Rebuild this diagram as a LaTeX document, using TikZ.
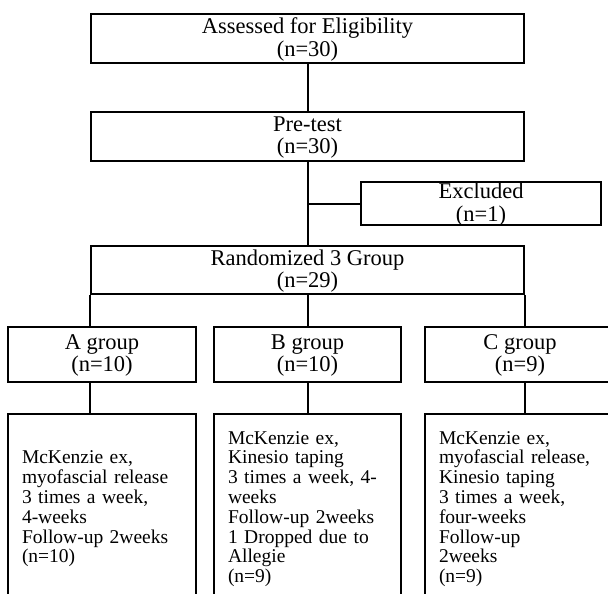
\documentclass[tikz,border=0pt]{standalone}
\usepackage{fontspec}
\setmainfont{Liberation Serif}
\newcommand\bodyfont{\fontsize{19.5}{19.8}\selectfont\spaceskip=0.4em plus 0.1em\relax}

\begin{document}
\begin{tikzpicture}[x=1pt,y=-1pt,line width=2pt,
  box/.style={draw,inner sep=0pt,align=center,text depth=3pt,font=\fontsize{22.5}{22.5}\selectfont},
  txtbox/.style={draw,anchor=north,minimum height=190pt,inner xsep=14pt,align=left,font=\bodyfont}]
\useasboundingbox (0,0) rectangle (608,594);

\node[box,minimum width=433pt,minimum height=49pt] (assess) at (307.5,38.5) {Assessed for Eligibility\\(n=30)};
\node[box,minimum width=433pt,minimum height=49pt] (pretest) at (307.5,136.5) {Pre-test\\(n=30)};
\node[box,minimum width=240pt,minimum height=43pt] (excl) at (481,203.5) {Excluded\\(n=1)};
\node[box,minimum width=433pt,minimum height=48pt] (rand) at (307.5,270) {Randomized 3 Group\\(n=29)};

\node[box,minimum width=188pt,minimum height=55pt] (ga) at (102,354.5) {A group\\(n=10)};
\node[box,minimum width=187pt,minimum height=55pt] (gb) at (307.5,354.5) {B group\\(n=10)};
\node[box,minimum width=190pt,minimum height=55pt] (gc) at (520,354.5) {C group\\(n=9)};

\node[txtbox,text width=160pt] (da) at (102,413) {McKenzie ex,\\myofascial release\\3 times a week,\\4-weeks\\Follow-up 2weeks\\(n=10)};
\node[txtbox,text width=159pt] (db) at (307.5,413) {McKenzie ex,\\Kinesio taping\\3 times a week, 4-\\weeks\\Follow-up 2weeks\\1 Dropped due to\\Allegie\\(n=9)};
\node[txtbox,text width=162pt] (dc) at (520,413) {McKenzie ex,\\myofascial release,\\Kinesio taping\\3 times a week,\\four-weeks\\Follow-up\\2weeks\\(n=9)};

\draw (assess) -- (pretest);
\draw (pretest) -- (rand);
\draw (pretest.south |- excl.west) -- (excl.west);

\draw (rand.south west) -- (rand.south west |- ga.north);
\draw (rand) -- (gb);
\draw (rand.south east) -- (rand.south east |- gc.north);

\draw (rand.south west |- ga.south) -- (rand.south west |- da.north);
\draw (gb) -- (db);
\draw (rand.south east |- gc.south) -- (rand.south east |- dc.north);

\end{tikzpicture}
\end{document}
